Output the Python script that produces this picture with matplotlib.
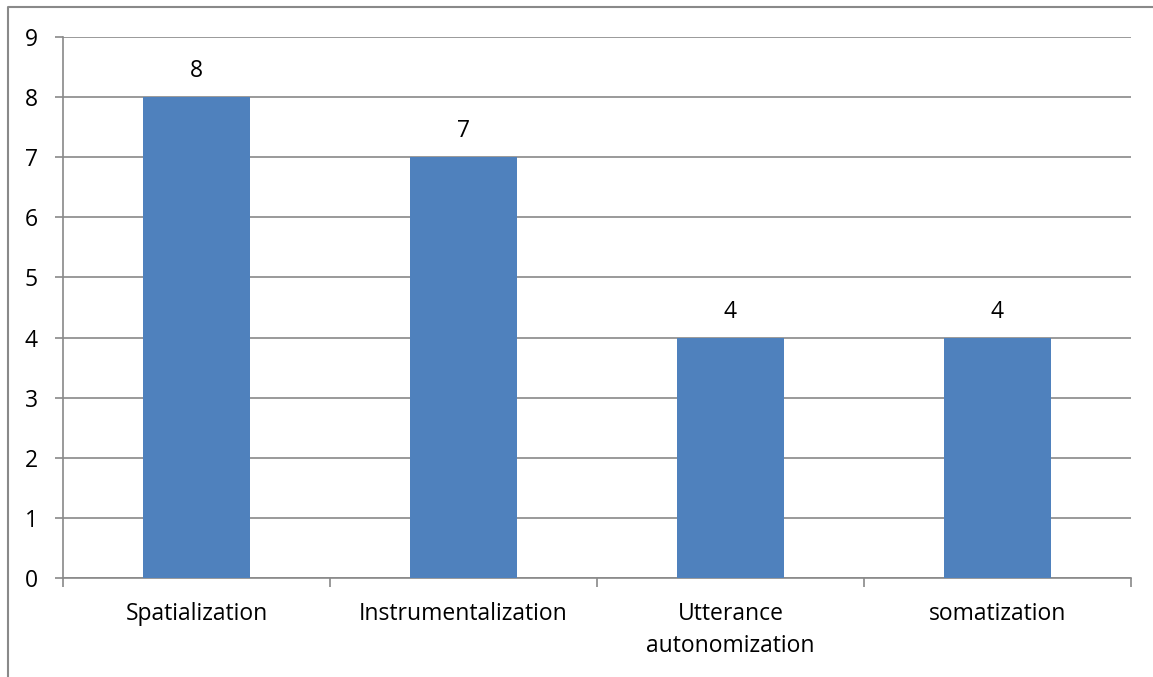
import matplotlib.pyplot as plt
from matplotlib.lines import Line2D

categories = ["Spatialization", "Instrumentalization", "Utterance\nautonomization", "somatization"]
values = [8, 7, 4, 4]

plt.rcParams['font.family'] = ['Open Sans', 'DejaVu Sans']

fig = plt.figure(figsize=(11.53, 6.77), dpi=100)
ax = fig.add_axes([0.0546, 0.1462, 0.9263, 0.7991])

grid_col = '#898989'
fs = 16.5
x = range(len(categories))
bars = ax.bar(x, values, width=0.4, color='#4f81bd', zorder=3)

for b, v in zip(bars, values):
    ax.annotate(str(v), (b.get_x() + b.get_width() / 2, v), xytext=(0, 10),
                textcoords='offset points', ha='center', va='bottom', fontsize=fs)

ax.set_xlim(-0.5, len(categories) - 0.5)
ax.set_ylim(0, 9)
ax.set_yticks(range(10))
ax.yaxis.grid(True, color=grid_col, linewidth=1.2, zorder=0)

# category boundaries get the tick marks, labels sit in the middle
ax.set_xticks([i - 0.5 for i in range(len(categories) + 1)])
ax.set_xticklabels([])
ax.set_xticks(list(x), minor=True)
ax.set_xticklabels(categories, minor=True, fontsize=fs, linespacing=1.45)
ax.tick_params(axis='x', which='minor', length=0, pad=17)
ax.tick_params(axis='x', which='major', length=6.5, width=1.2, color=grid_col)
ax.tick_params(axis='y', length=6, width=1.2, color=grid_col, labelsize=fs, pad=12)

for side in ['top', 'right']:
    ax.spines[side].set_visible(False)
for side in ['left', 'bottom']:
    ax.spines[side].set_color(grid_col)
    ax.spines[side].set_linewidth(1.2)

# chart frame, clipped by the image on the right and bottom
fx = 7.5 / 1153
fy = 1 - 6.5 / 677
fig.add_artist(Line2D([fx, fx, 1], [0, fy, fy], color=grid_col, linewidth=1.5))

fig.savefig('out.png', dpi=100)
